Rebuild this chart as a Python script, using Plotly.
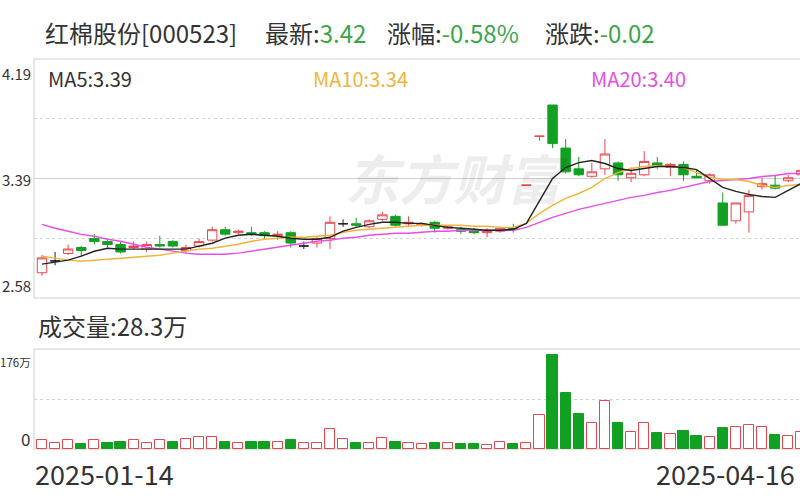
import plotly.graph_objects as go

# 红棉股份[000523] 日K，2025-01-14 起
opens = [2.75, 2.83, 2.88, 2.92, 2.98, 2.96, 2.94, 2.92, 2.91, 2.94,
         2.96, 2.90, 2.93, 2.97, 3.04, 3.02, 3.02, 3.02, 3.00, 3.02,
         2.93, 2.95, 2.98, 3.08, 3.08, 3.06, 3.11, 3.13, 3.08, 3.07,
         3.09, 3.05, 3.04, 3.03, 3.02, 3.03, 3.05, 3.34, 3.67, 3.88,
         3.59, 3.45, 3.40, 3.45, 3.49, 3.39, 3.41, 3.49, 3.46, 3.48,
         3.40, 3.37, 3.22, 3.10, 3.16, 3.33, 3.34, 3.37, 3.41]
highs = [2.87, 2.89, 2.94, 2.93, 3.01, 2.97, 2.96, 2.96, 2.96, 3.00,
         2.97, 2.94, 2.98, 3.06, 3.06, 3.04, 3.06, 3.03, 3.03, 3.03,
         2.96, 2.99, 3.13, 3.11, 3.12, 3.11, 3.16, 3.14, 3.13, 3.09,
         3.10, 3.07, 3.06, 3.05, 3.05, 3.06, 3.08, 3.34, 3.67, 3.88,
         3.65, 3.53, 3.49, 3.65, 3.50, 3.46, 3.57, 3.53, 3.49, 3.50,
         3.44, 3.42, 3.29, 3.22, 3.31, 3.39, 3.41, 3.41, 3.45]
lows = [2.73, 2.80, 2.87, 2.86, 2.94, 2.92, 2.88, 2.91, 2.89, 2.92,
        2.92, 2.88, 2.92, 2.96, 3.00, 3.01, 3.00, 2.98, 2.97, 2.92,
        2.91, 2.92, 2.91, 3.06, 3.06, 3.05, 3.10, 3.06, 3.06, 3.06,
        3.02, 3.04, 3.01, 3.01, 2.99, 3.02, 3.02, 3.34, 3.64, 3.59,
        3.42, 3.40, 3.39, 3.41, 3.37, 3.36, 3.40, 3.45, 3.40, 3.37,
        3.39, 3.35, 3.07, 3.08, 3.02, 3.31, 3.31, 3.36, 3.40]
closes = [2.85, 2.83, 2.91, 2.90, 2.96, 2.94, 2.89, 2.93, 2.94, 2.93,
          2.93, 2.92, 2.96, 3.04, 3.01, 3.03, 3.01, 3.00, 3.01, 2.95,
          2.93, 2.98, 3.09, 3.08, 3.07, 3.10, 3.14, 3.07, 3.09, 3.08,
          3.05, 3.06, 3.03, 3.02, 3.03, 3.05, 3.04, 3.34, 3.67, 3.62,
          3.43, 3.41, 3.43, 3.55, 3.41, 3.42, 3.50, 3.47, 3.48, 3.41,
          3.39, 3.41, 3.07, 3.22, 3.27, 3.35, 3.32, 3.39, 3.44]

ma5 = [2.808, 2.821, 2.835, 2.862, 2.895, 2.915, 2.909, 2.909, 2.909, 2.909,
       2.909, 2.909, 2.929, 2.949, 2.983, 3.003, 3.009, 3.003, 2.996, 2.983,
       2.976, 2.976, 2.989, 3.030, 3.056, 3.076, 3.090, 3.090, 3.083, 3.083,
       3.070, 3.056, 3.050, 3.043, 3.036, 3.036, 3.043, 3.083, 3.231, 3.385,
       3.459, 3.492, 3.506, 3.486, 3.452, 3.439, 3.452, 3.466, 3.466, 3.459,
       3.445, 3.385, 3.325, 3.298, 3.278, 3.264, 3.258, 3.305, 3.352]
ma10 = [2.862, 2.848, 2.835, 2.828, 2.835, 2.842, 2.848, 2.855, 2.862, 2.868,
        2.882, 2.895, 2.909, 2.915, 2.929, 2.942, 2.962, 2.976, 2.983, 2.989,
        2.989, 2.996, 3.003, 3.023, 3.036, 3.043, 3.050, 3.056, 3.063, 3.070,
        3.070, 3.070, 3.070, 3.063, 3.063, 3.056, 3.056, 3.083, 3.150, 3.204,
        3.251, 3.284, 3.325, 3.385, 3.425, 3.452, 3.466, 3.472, 3.466, 3.459,
        3.425, 3.392, 3.378, 3.378, 3.365, 3.338, 3.325, 3.338, 3.345]
ma20 = [3.076, 3.050, 3.030, 3.009, 2.996, 2.976, 2.962, 2.942, 2.922, 2.909,
        2.895, 2.882, 2.875, 2.875, 2.875, 2.882, 2.895, 2.909, 2.922, 2.936,
        2.949, 2.962, 2.969, 2.983, 2.989, 3.003, 3.009, 3.016, 3.016, 3.023,
        3.030, 3.030, 3.036, 3.036, 3.036, 3.036, 3.036, 3.056, 3.090, 3.123,
        3.150, 3.177, 3.197, 3.217, 3.237, 3.258, 3.271, 3.291, 3.305, 3.325,
        3.345, 3.365, 3.372, 3.378, 3.385, 3.398, 3.405, 3.419, 3.419]

# 成交量（万手），1 = 红色空心, 0 = 绿色实心
volume = [15.8, 10.6, 15.8, 8.8, 15.8, 11.4, 13.2, 15.8, 10.6, 15.8,
          13.2, 17.6, 21.1, 21.1, 13.2, 10.6, 13.2, 13.2, 13.2, 15.0,
          10.6, 10.6, 35.2, 17.6, 10.6, 11.4, 18.5, 13.2, 10.6, 8.8,
          10.6, 10.6, 8.8, 8.8, 7.0, 12.3, 8.8, 10.6, 59.8, 165.4,
          98.6, 61.6, 45.8, 84.5, 45.8, 29.9, 45.8, 28.2, 26.4, 31.7,
          22.9, 21.1, 37.0, 38.7, 42.2, 38.7, 24.6, 22.9, 29.9]
vol_up = [1, 1, 1, 0, 1, 0, 0, 1, 1, 1, 0, 1, 1, 1, 0, 1, 0, 0, 1, 0,
          1, 1, 1, 1, 0, 1, 1, 0, 1, 1, 0, 1, 0, 0, 1, 1, 0, 1, 1, 0,
          0, 0, 1, 1, 0, 1, 1, 0, 1, 0, 0, 1, 0, 1, 1, 1, 0, 1, 1]

price_ticks = [4.19, 3.39, 2.58]
vol_top = 176
vol_tick_labels = ["176万", "0"]
date_labels = ["2025-01-14", "2025-04-16"]

RED = "#e8464f"
GREEN = "#12a022"
FONT = "Noto Sans CJK SC"

x = list(range(len(closes)))
hi, lo = price_ticks[0], price_ticks[-1]


def pick(idx, arr):
    return [arr[i] for i in idx]


up_down = [i for i in x if closes[i] != opens[i]]
doji = [i for i in x if closes[i] == opens[i] and highs[i] > closes[i]]
limit = [i for i in x if closes[i] == opens[i] and highs[i] == closes[i]]


def candles(idx, inc_line, inc_fill, dec_line, dec_fill):
    return go.Candlestick(
        x=idx, open=pick(idx, opens), high=pick(idx, highs),
        low=pick(idx, lows), close=pick(idx, closes),
        increasing=dict(line=dict(color=inc_line, width=1), fillcolor=inc_fill),
        decreasing=dict(line=dict(color=dec_line, width=1), fillcolor=dec_fill),
        whiskerwidth=0, hoverinfo="skip", xaxis="x", yaxis="y")


fig = go.Figure()
fig.add_trace(candles(up_down, RED, "white", GREEN, GREEN))
fig.add_trace(candles(doji, "#222222", "#222222", "#222222", "#222222"))
fig.add_trace(candles(limit, RED, RED, RED, RED))

for ma, col in [(ma20, "#e64ee6"), (ma10, "#f0b43c"), (ma5, "#222222")]:
    fig.add_trace(go.Scatter(x=x, y=ma, mode="lines", line=dict(color=col, width=1.4),
                             hoverinfo="skip", xaxis="x", yaxis="y"))

fig.add_trace(go.Bar(
    x=x, y=volume, width=0.78, xaxis="x2", yaxis="y2", hoverinfo="skip",
    marker=dict(color=["white" if u else GREEN for u in vol_up],
                line=dict(color=[RED if u else GREEN for u in vol_up], width=1))))


def px(v):
    return v / 800


def py(v):
    return 1 - v / 500


xr = [-0.61, 57.9]
dom_x = [px(34), 1]
price_dom = [py(298), py(59)]
vol_dom = [py(449), py(349)]

axis_common = dict(showgrid=False, zeroline=False, showticklabels=False,
                   showline=False, fixedrange=True)
fig.update_layout(
    width=800, height=500, margin=dict(l=0, r=0, t=0, b=0),
    paper_bgcolor="white", plot_bgcolor="white", showlegend=False,
    font=dict(family=FONT, color="#333333"),
    xaxis=dict(domain=dom_x, range=xr, rangeslider=dict(visible=False), **axis_common),
    yaxis=dict(domain=price_dom, range=[lo, hi], showgrid=True, gridcolor="#d4d4d4",
               griddash="dot", gridwidth=1,
               tickvals=[lo + (hi - lo) * 0.25, lo + (hi - lo) * 0.75],
               zeroline=False, showticklabels=False, fixedrange=True),
    xaxis2=dict(domain=dom_x, range=xr, anchor="y2", **axis_common),
    yaxis2=dict(domain=vol_dom, range=[0, vol_top], showgrid=True, gridcolor="#d4d4d4",
                griddash="dot", gridwidth=1, tickvals=[vol_top / 2],
                zeroline=False, showticklabels=False, fixedrange=True),
    bargap=0, boxgap=0.28, boxgroupgap=0,
)

frame = "#d0d0d0"
shapes = [
    dict(type="rect", xref="paper", yref="paper", x0=dom_x[0], x1=1.02,
         y0=price_dom[0], y1=price_dom[1], line=dict(color=frame, width=1), layer="below"),
    dict(type="rect", xref="paper", yref="paper", x0=dom_x[0], x1=1.02,
         y0=vol_dom[0], y1=vol_dom[1], line=dict(color=frame, width=1), layer="below"),
    dict(type="line", xref="paper", yref="y", x0=dom_x[0], x1=1,
         y0=(hi + lo) / 2, y1=(hi + lo) / 2, line=dict(color=frame, width=1), layer="below"),
]
fig.update_layout(shapes=shapes)

VAL = "#3aa64a"


def note(text, x0, y0, size, color="#333333", anchor="left"):
    fig.add_annotation(text=text, xref="paper", yref="paper", x=px(x0), y=py(y0),
                       xanchor=anchor, yanchor="middle", showarrow=False,
                       font=dict(size=size, color=color, family=FONT))


# 标题行
note("红棉股份[000523]", 43, 32, 24)
note(f"最新:<span style='color:{VAL}'>{closes[-1] - 0.02:.2f}</span>", 263, 32, 24)
note(f"涨幅:<span style='color:{VAL}'>-0.58%</span>", 385, 32, 24)
note(f"涨跌:<span style='color:{VAL}'>-0.02</span>", 543, 32, 24)

# 均线标签
note("MA5:3.39", 46, 78, 20)
note("MA10:3.34", 311, 78, 20, "#f0b43c")
note("MA20:3.40", 589, 78, 20, "#e64ee6")

# 水印
note("<b><i>东方财富</i></b>", 343, 176, 54, "rgba(0,0,0,0.07)")

# 价格刻度
note(f"{price_ticks[0]:.2f}", 33, 73, 15, anchor="right")
note(f"{price_ticks[1]:.2f}", 33, 179, 15, anchor="right")
note(f"{price_ticks[2]:.2f}", 33, 285, 15, anchor="right")

note("成交量:28.3万", 36, 325, 24)
note(vol_tick_labels[0], 33, 362, 11.5, anchor="right")
note(vol_tick_labels[1], 32, 438, 17, anchor="right")

note(date_labels[0], 33, 473, 27)
note(date_labels[1], 797, 473, 27, anchor="right")

fig.write_html("out.html", config={"displayModeBar": False},
               post_script="document.body.style.margin='0';")
